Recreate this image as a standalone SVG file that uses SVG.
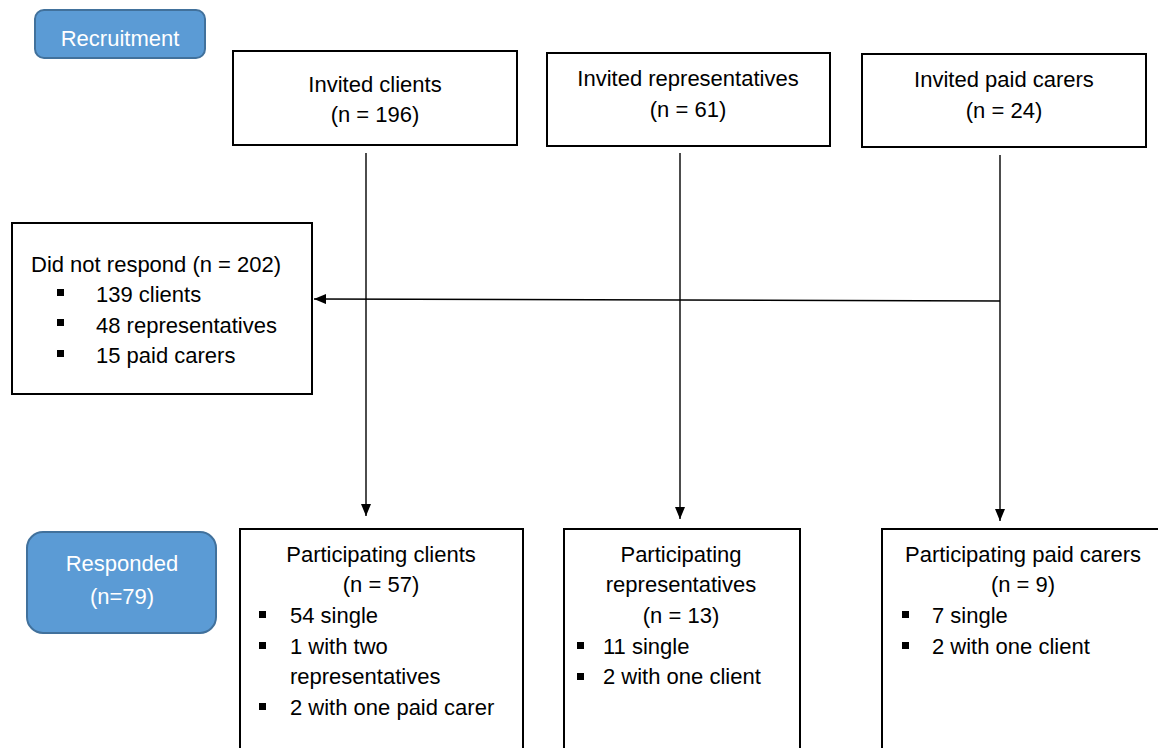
<svg xmlns="http://www.w3.org/2000/svg" width="1158" height="748" viewBox="0 0 1158 748">
<style>
text{font-family:"Liberation Sans",Arial,sans-serif;font-size:22px;fill:#000}
.c{text-anchor:middle}
.w{fill:#fff}
.box{fill:#fff;stroke:#000;stroke-width:2}
.lab{fill:#5B9BD5;stroke:#41719C;stroke-width:2}
.ln{stroke:#000;stroke-width:1.4;fill:none}
.b{fill:#000}
</style>
<defs>
<marker id="ah" viewBox="0 0 12 10" refX="12" refY="5" markerWidth="12" markerHeight="10" markerUnits="userSpaceOnUse" orient="auto">
<path d="M0,0L12,5L0,10z" fill="#000"/>
</marker>
</defs>
<rect width="1158" height="748" fill="#fff"/>
<g id="connectors">
<line class="ln" x1="366" y1="153" x2="366" y2="516" marker-end="url(#ah)"/>
<line class="ln" x1="680" y1="153" x2="680" y2="519" marker-end="url(#ah)"/>
<line class="ln" x1="1000" y1="155" x2="1000" y2="521" marker-end="url(#ah)"/>
<line class="ln" x1="1000" y1="301" x2="314" y2="299" marker-end="url(#ah)"/>
</g>
<g id="recruitment">
<rect class="lab" x="35" y="10" width="170" height="48" rx="9"/>
<text class="c w" x="120" y="46">Recruitment</text>
</g>
<g id="invited-clients">
<rect class="box" x="233" y="51" width="284" height="94"/>
<text class="c" x="375" y="92">Invited clients</text>
<text class="c" x="375" y="122">(n = 196)</text>
</g>
<g id="invited-representatives">
<rect class="box" x="547" y="53" width="283" height="93"/>
<text class="c" x="688" y="86">Invited representatives</text>
<text class="c" x="688" y="117">(n = 61)</text>
</g>
<g id="invited-paid-carers">
<rect class="box" x="862" y="54" width="284" height="93"/>
<text class="c" x="1004" y="87">Invited paid carers</text>
<text class="c" x="1004" y="118">(n = 24)</text>
</g>
<g id="did-not-respond">
<rect class="box" x="12" y="223" width="300" height="171"/>
<text x="31" y="272">Did not respond (n = 202)</text>
<rect class="b" x="57" y="289" width="7" height="7"/>
<text x="96" y="302">139 clients</text>
<rect class="b" x="57" y="319" width="7" height="7"/>
<text x="96" y="333">48 representatives</text>
<rect class="b" x="57" y="350" width="7" height="7"/>
<text x="96" y="363">15 paid carers</text>
</g>
<g id="responded">
<rect class="lab" x="27" y="532" width="189" height="101" rx="16"/>
<text class="c w" x="122" y="571">Responded</text>
<text class="c w" x="122" y="604">(n=79)</text>
</g>
<g id="participating-clients">
<rect class="box" x="240" y="529" width="283" height="230"/>
<text class="c" x="381" y="562">Participating clients</text>
<text class="c" x="381" y="592">(n = 57)</text>
<rect class="b" x="259" y="611" width="7" height="7"/>
<text x="290" y="623">54 single</text>
<rect class="b" x="259" y="642" width="7" height="7"/>
<text x="290" y="654">1 with two</text>
<text x="290" y="684">representatives</text>
<rect class="b" x="259" y="703" width="7" height="7"/>
<text x="290" y="715">2 with one paid carer</text>
</g>
<g id="participating-representatives">
<rect class="box" x="564" y="529" width="236" height="230"/>
<text class="c" x="681" y="562">Participating</text>
<text class="c" x="681" y="592">representatives</text>
<text class="c" x="681" y="623">(n = 13)</text>
<rect class="b" x="577" y="642" width="7" height="7"/>
<text x="603" y="654">11 single</text>
<rect class="b" x="577" y="673" width="7" height="7"/>
<text x="603" y="684">2 with one client</text>
</g>
<g id="participating-paid-carers">
<rect class="box" x="882" y="529" width="290" height="230"/>
<text class="c" x="1023" y="562">Participating paid carers</text>
<text class="c" x="1023" y="592">(n = 9)</text>
<rect class="b" x="902" y="611" width="7" height="7"/>
<text x="932" y="623">7 single</text>
<rect class="b" x="902" y="642" width="7" height="7"/>
<text x="932" y="654">2 with one client</text>
</g>
</svg>
